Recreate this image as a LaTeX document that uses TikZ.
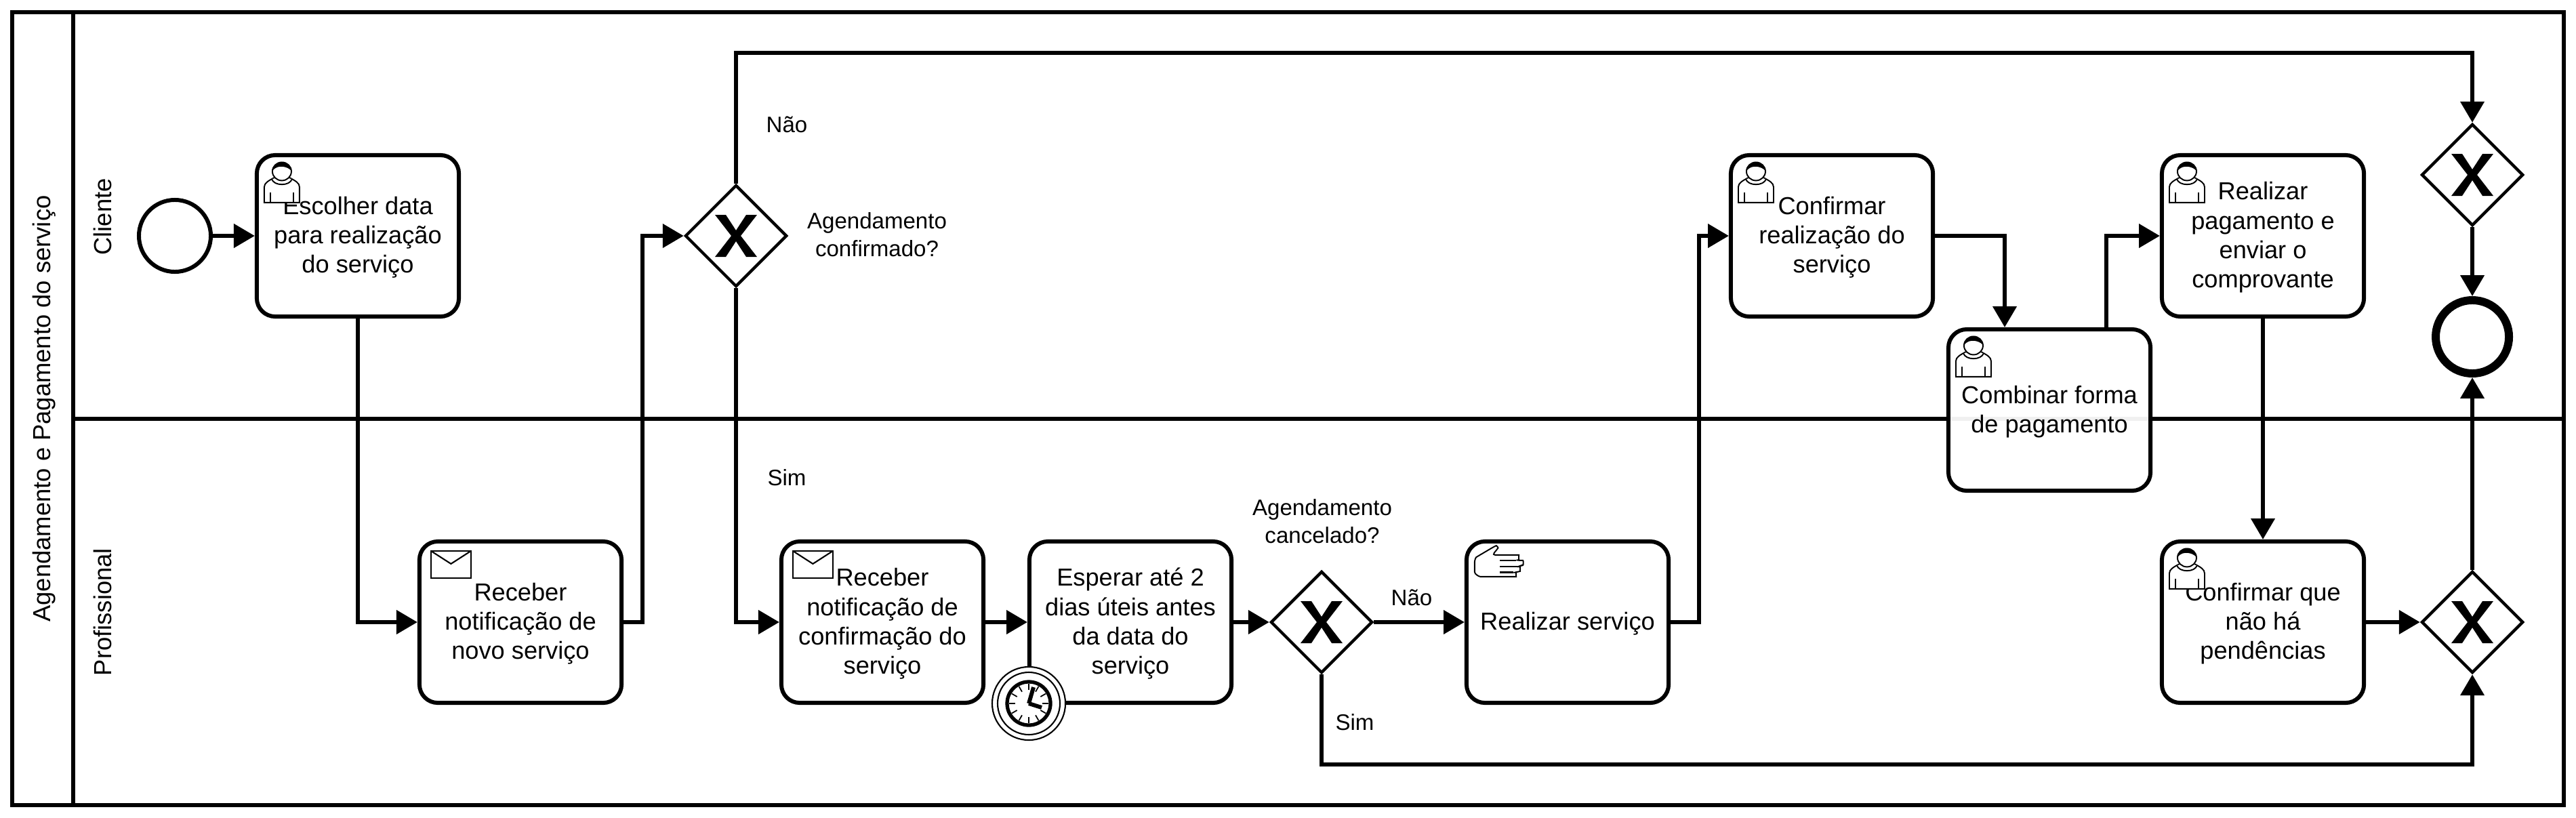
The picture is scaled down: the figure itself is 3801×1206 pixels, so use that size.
\documentclass[tikz,border=0pt]{standalone}
\usepackage{fontspec}
\setmainfont{Liberation Sans}
\usetikzlibrary{arrows.meta,shapes.geometric,calc}
\newcommand{\topgap}{\rule{0pt}{8.8pt}}
\tikzset{
    swim/.style={draw,line width=1.7pt},
    task/.style={draw,line width=1.7pt,rounded corners=0.27cm,fill=white,align=center,
        minimum width=2.98cm,minimum height=2.38cm,inner sep=0pt,
        font=\fontsize{10.3}{12.3}\selectfont},
    gate/.style={diamond,draw,line width=1.25pt,fill=white,minimum width=1.5cm,minimum height=1.5cm,inner sep=0pt},
    startev/.style={circle,draw,line width=1.7pt,minimum size=1.06cm,inner sep=0pt},
    endev/.style={circle,draw,line width=3.4pt,minimum size=1.08cm,inner sep=0pt},
    timerev/.style={circle,draw,line width=0.6pt,fill=white,minimum size=1.08cm,inner sep=0pt},
    note/.style={align=center,inner sep=0pt,font=\fontsize{9.4}{11.6}\selectfont},
    title/.style={rotate=90,inner sep=0pt,font=\fontsize{10.35}{12}\selectfont},
    arrow/.style={-{Triangle[length=8.8pt,width=9.8pt]},line width=1.7pt},
    thin icon/.style={line width=0.55pt,fill=white},
    xmark/.pic={
        \fill[black] (-31,-31)--(-15,-31)--(0,-8)--(15,-31)--(31,-31)--(7,0)--(31,31)--(15,31)--(0,8)--(-15,31)--(-31,31)--(-7,0)--cycle;
    },
    usericon/.pic={
        \draw[thin icon] (0,61)--(0,38) .. controls (0,32) and (6,29) .. (15,24) -- (37,24) .. controls (46,29) and (52,32) .. (52,38) -- (52,61) -- cycle;
        \draw[thin icon] (11,26) .. controls (14,37) and (38,37) .. (41,26);
        \draw[thin icon] (26,15) ellipse (14 and 13.5);
        \fill[black] (12,14) .. controls (12,-3) and (40,-3) .. (40,14) .. controls (36,10) and (33,9) .. (28,8) .. controls (22,7) and (16,9) .. (12,14) -- cycle;
        \draw[line width=0.55pt] (9,46)--(9,61) (43,46)--(43,61);
    },
    handicon/.pic={
        \draw[thin icon,rounded corners=1.2pt] (27,13)--(33,6) .. controls (36,2) and (33,-1) .. (29,1) -- (7,14)
            .. controls (2,17) and (1,22) .. (1,27) -- (1,34) .. controls (1,41) and (7,45) .. (14,45)
            -- (58,45) .. controls (62,45) and (62,39) .. (58,39) -- (64,38) .. controls (68,37) and (68,31) .. (64,30.5)
            -- (68,29) .. controls (73,28) and (73,21) .. (68,21) -- (62,20.5) .. controls (66,20) and (66,13) .. (62,13) -- cycle;
        \draw[line width=0.8pt] (38,21)--(62,21) (38,30)--(64,30);
        \draw[line width=1.1pt] (38,38.5)--(58,38.5);
    },
    mailicon/.pic={
        \draw[line width=0.6pt,fill=white] (0,0) rectangle (59,40);
        \draw[line width=0.6pt] (0,0)--(29.5,19)--(59,0);
    },
    clockicon/.pic={
        \draw[line width=0.6pt] (0,0) circle (46);
        \draw[line width=1.5pt] (0,0) circle (32);
        \foreach \ang in {0,30,...,330} {\draw[line width=0.5pt] (\ang:29)--(\ang:20);}
        \draw[line width=1.7pt] (0,0)--(7,-24);
        \draw[line width=1.7pt] (0,0)--(19,6);
    }
}

\begin{document}
\begin{tikzpicture}[x=0.01cm,y=-0.01cm]
    \useasboundingbox (0,0) rectangle (3801,1206);
    % pool and lanes
    \draw[swim] (18,18) rectangle (3783,1188);
    \draw[swim] (108,18)--(108,1188);
    \draw[swim] (108,618)--(3783,618);
    \node[title] (pooltitle) at (65,603) {Agendamento e Pagamento do serviço};
    \node[title] (cliente) at (151,320) {Cliente};
    \node[title] (profissional) at (151,903) {Profissional};

    \node[startev] (start) at (258,348) {};
    \node[task] (escolher) at (528,348) {\topgap Escolher data\\para realização\\do serviço};
    \node[task] (novo) at (768,918) {\topgap Receber\\notificação de\\novo serviço};
    \node[gate] (gwconf) at (1086,348) {};
    \node[task] (notconf) at (1302,918) {\topgap Receber\\notificação de\\confirmação do\\serviço};
    \node[task] (esperar) at (1668,918) {\topgap Esperar até 2\\dias úteis antes\\da data do\\serviço};
    \node[timerev] (timer) at (1518,1038) {};
    \node[gate] (gwcanc) at (1950,918) {};
    \node[task] (realizar) at (2313,918) {\topgap Realizar serviço};
    \node[task] (confreal) at (2703,348) {\topgap Confirmar\\realização do\\serviço};
    \node[task,fill opacity=0.94,text opacity=1] (combinar) at (3024,605) {\topgap Combinar forma\\de pagamento};
    \node[task] (pagar) at (3339,348) {\topgap Realizar\\pagamento e\\enviar o\\comprovante};
    \node[task] (pend) at (3339,918) {\topgap Confirmar que\\não há\\pendências};
    \node[gate] (gwjoin) at (3648,918) {};
    \node[gate] (gwend) at (3648,258) {};
    \node[endev] (fim) at (3648,497) {};

    \foreach \g in {gwconf,gwcanc,gwjoin,gwend} {\pic at (\g) {xmark};}
    \foreach \t in {escolher,confreal,combinar,pagar,pend} {\pic at ($(\t.north west)+(14,12)$) {usericon};}
    \foreach \t in {novo,notconf} {\pic at ($(\t.north west)+(20,17)$) {mailicon};}
    \pic at ($(realizar.north west)+(14,10)$) {handicon};
    \pic at (timer) {clockicon};

    \draw[arrow] (start)--(escolher);
    \draw[arrow] (escolher.south)|-(novo.west);
    \draw[arrow] (novo.east)-|(948,348)--(gwconf.west);
    \draw[arrow] (gwconf.south)|-(notconf.west);
    \draw[arrow] (gwconf.north)|-(3648,78)--(gwend.north);
    \draw[arrow] (notconf)--(esperar);
    \draw[arrow] (esperar)--(gwcanc);
    \draw[arrow] (gwcanc)--(realizar);
    \draw[arrow] (gwcanc.south)|-(3648,1128)--(gwjoin.south);
    \draw[arrow] (realizar.east)-|(2507,348)--(confreal.west);
    \draw[arrow] (confreal.east)-|(combinar.north-|2958,0);
    \draw[arrow] (combinar.north-|3108,0)|-(pagar.west);
    \draw[arrow] (pagar)--(pend);
    \draw[arrow] (pend)--(gwjoin);
    \draw[arrow] (gwjoin)--(fim);
    \draw[arrow] (gwend)--(fim);

    \node[note] (lbnao) at (1161,184) {Não};
    \node[note] (lbconf) at (1294,346) {Agendamento\\confirmado?};
    \node[note] (lbsim) at (1161,705) {Sim};
    \node[note] (lbcanc) at (1951,769) {Agendamento\\cancelado?};
    \node[note] (lbnao2) at (2083,882) {Não};
    \node[note] (lbsim2) at (1999,1066) {Sim};
\end{tikzpicture}
\end{document}
